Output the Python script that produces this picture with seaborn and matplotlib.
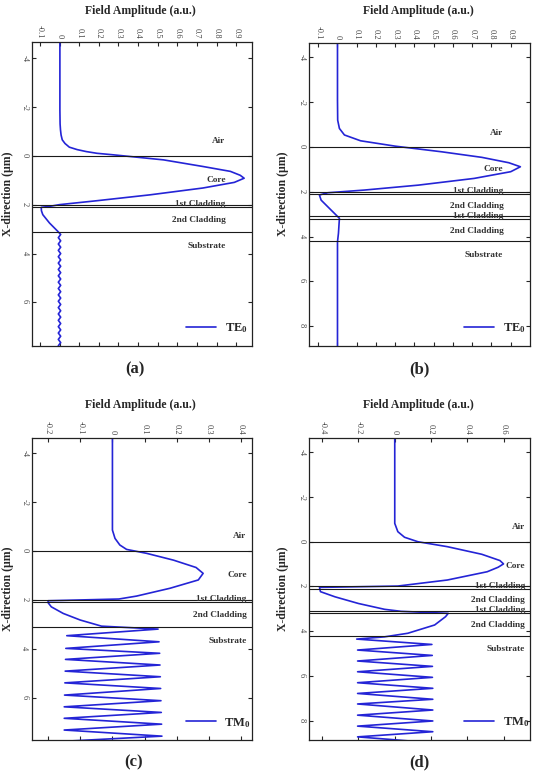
import numpy as np
import pandas as pd
import matplotlib.pyplot as plt
import seaborn as sns

sns.set_theme(style='ticks')
plt.rcParams['font.family'] = ['Liberation Serif', 'DejaVu Serif']
plt.rcParams['axes.unicode_minus'] = False
plt.rcParams['mathtext.fontset'] = 'custom'
plt.rcParams['mathtext.rm'] = 'Liberation Serif'
plt.rcParams['mathtext.bf'] = 'Liberation Serif:bold'

# (a) TE0, single stack
a_depth = [-4.7, -1.87, -1.3, -1.06, -0.85, -0.65, -0.5, -0.35, -0.25, -0.17, -0.1, -0.04, 0.17, 0.44,
           0.64, 0.8, 0.92, 1.09, 1.32, 1.60, 1.84, 2.0, 2.07, 2.11, 2.25, 2.41, 2.75, 3.09,
           3.22, 3.35, 3.48, 3.61, 3.74, 3.87, 4.00, 4.13, 4.26, 4.39, 4.52, 4.65, 4.78, 4.91,
           5.04, 5.17, 5.30, 5.43, 5.56, 5.69, 5.82, 5.95, 6.08, 6.21, 6.34, 6.47, 6.60, 6.73,
           6.86, 6.99, 7.12, 7.25, 7.38, 7.51, 7.64, 7.77, 7.90]
a_amp = [0.002, 0.002, 0.003, 0.005, 0.008, 0.014, 0.028, 0.05, 0.09, 0.136, 0.19, 0.27, 0.53, 0.73,
         0.87, 0.92, 0.94, 0.89, 0.73, 0.46, 0.19, 0.0, -0.05, -0.093, -0.092, -0.085, -0.051, -0.009,
         0.006, -0.006, 0.006, -0.006, 0.006, -0.006, 0.006, -0.006, 0.006, -0.006, 0.006, -0.006, 0.006, -0.006,
         0.006, -0.006, 0.006, -0.006, 0.006, -0.006, 0.006, -0.006, 0.006, -0.006, 0.006, -0.006, 0.006, -0.006,
         0.006, -0.006, 0.006, -0.006, 0.006, -0.006, 0.006, -0.006, 0.006]

# (b) TE0, double stack
b_depth = [-4.7, -2.1, -1.2, -0.83, -0.54, -0.28, -0.04, 0.21, 0.46, 0.70, 0.88, 1.10, 1.40, 1.70,
           1.92, 2.04, 2.14, 2.37, 2.67, 2.96, 3.18, 3.85, 4.23, 9.0]
b_amp = [0.0, 0.0, 0.001, 0.01, 0.036, 0.12, 0.30, 0.54, 0.75, 0.89, 0.95, 0.90, 0.71, 0.42,
         0.14, -0.05, -0.094, -0.085, -0.05, -0.016, 0.01, 0.005, 0.0, 0.0]

# (c) TM0, single stack
c_depth = [-4.7, -1.67, -0.85, -0.51, -0.24, -0.06, 0.10, 0.38, 0.68, 0.92, 1.19, 1.53, 1.85, 1.97,
           2.04, 2.12, 2.29, 2.56, 2.83, 3.08, 3.2, 3.47, 3.72, 3.99, 4.19, 4.44, 4.67, 4.92, 5.15,
           5.40, 5.63, 5.90, 6.13, 6.38, 6.61, 6.85, 7.09, 7.33, 7.58, 7.79, 7.85]
c_amp = [0.0, 0.0, 0.0, 0.008, 0.023, 0.044, 0.106, 0.19, 0.26, 0.282, 0.267, 0.179, 0.075, 0.02,
         -0.2, -0.2, -0.19, -0.153, -0.10, -0.034, 0.142, -0.142, 0.145, -0.145, 0.147, -0.146, 0.148,
         -0.147, 0.149, -0.148, 0.15, -0.149, 0.151, -0.15, 0.152, -0.15, 0.153, -0.15, 0.154, -0.15, 0.05]

# (d) TM0, double stack
d_depth = [-4.7, -1.86, -0.81, -0.44, -0.19, 0.01, 0.23, 0.57, 0.85, 1.0, 1.15, 1.35, 1.72, 1.99,
           2.05, 2.24, 2.47, 2.77, 3.03, 3.12, 3.21, 3.36, 3.73, 4.10, 4.26, 4.36, 4.6, 4.85, 5.09,
           5.34, 5.58, 5.82, 6.07, 6.31, 6.56, 6.79, 7.05, 7.26, 7.53, 7.76, 8.02, 8.25, 8.5, 8.73, 8.95]
d_amp = [0.0, 0.0, 0.0, 0.017, 0.054, 0.128, 0.29, 0.48, 0.58, 0.6, 0.57, 0.51, 0.29, 0.017,
         -0.415, -0.41, -0.33, -0.20, -0.056, 0.035, 0.295, 0.28, 0.22, 0.072, -0.056, -0.21, 0.205,
         -0.205, 0.207, -0.205, 0.208, -0.205, 0.208, -0.205, 0.21, -0.205, 0.21, -0.205, 0.21,
         -0.205, 0.21, -0.205, 0.21, -0.205, 0.14]

single_bounds = [0.0, 2.0, 2.1, 3.1]
double_bounds = [0.0, 2.0, 2.1, 3.1, 3.2, 4.2]

single_layers = ['Air', 'Core', '1st Cladding', '2nd Cladding', 'Substrate']
single_layer_y = [-0.62, 0.98, 1.98, 2.62, 3.70]
double_layers = ['Air', 'Core', '1st Cladding', '2nd Cladding', '1st Cladding', '2nd Cladding', 'Substrate']
double_layer_y = [-0.64, 0.98, 1.97, 2.62, 3.07, 3.74, 4.83]

te_xticks = [-0.1, 0, 0.1, 0.2, 0.3, 0.4, 0.5, 0.6, 0.7, 0.8, 0.9]
te_xlabels = ['-0.1', '0', '0.1', '0.2', '0.3', '0.4', '0.5', '0.6', '0.7', '0.8', '0.9']
c_xticks = [-0.2, -0.1, 0, 0.1, 0.2, 0.3, 0.4]
c_xlabels = ['-0.2', '-0.1', '0', '0.1', '0.2', '0.3', '0.4']
d_xticks = [-0.4, -0.2, 0, 0.2, 0.4, 0.6]
d_xlabels = ['-0.4', '-0.2', '0', '0.2', '0.4', '0.6']
single_yticks = [-4, -2, 0, 2, 4, 6]
double_yticks = [-4, -2, 0, 2, 4, 6, 8]

blue = '#2424d6'

fig = plt.figure(figsize=(5.37, 7.74), dpi=100)
W, H = 537, 774


def add_ax(l, r, t, b):
    return fig.add_axes([l / W, 1 - b / H, (r - l) / W, (b - t) / H])


def panel(ax, amp, depth, bounds, layers, layer_y, text_x, xt, xl, xlim, yt, ylim, mode, leg_x):
    df = pd.DataFrame({'amp': amp, 'depth': depth})
    sns.lineplot(data=df, x='amp', y='depth', sort=False, estimator=None, color=blue,
                 lw=1.2, ax=ax, label=mode)
    for b in bounds:
        ax.axhline(b, color='#1a1a1a', lw=0.8)
    for s, y in zip(layers, layer_y):
        ax.text(text_x, y, s, transform=ax.get_yaxis_transform(), ha='right', va='center',
                fontsize=6.7, fontweight='bold', color='#333333')
    ax.set_xlim(*xlim)
    ax.set_ylim(ylim[1], ylim[0])
    ax.set_xticks(xt)
    ax.set_xticklabels(xl, rotation=-90)
    ax.set_yticks(yt)
    ax.set_yticklabels([str(v) for v in yt], rotation=-90)
    ax.tick_params(which='both', direction='in', top=True, right=True, bottom=True, left=True,
                   labeltop=True, labelbottom=False, length=3, width=0.8, labelsize=6,
                   labelcolor='#444444', pad=2.5)
    ax.set_xlabel('')
    ax.set_ylabel('')
    for sp in ax.spines.values():
        sp.set_linewidth(0.9)
        sp.set_color('#222222')
    ax.legend(loc='center left', bbox_to_anchor=(leg_x, 0.058), frameon=False, borderpad=0,
              borderaxespad=0, handlelength=2.4, handletextpad=0.7, fontsize=9)


ax_a = add_ax(32, 252, 42, 346)
panel(ax_a, a_amp, a_depth, single_bounds, single_layers, single_layer_y, 0.88,
      te_xticks, te_xlabels, (-0.14, 0.98), single_yticks, (-4.65, 7.78), r'$\mathbf{TE_0}$', 0.699)

ax_b = add_ax(309, 530, 42.7, 345.7)
panel(ax_b, b_amp, b_depth, double_bounds, double_layers, double_layer_y, 0.879,
      te_xticks, te_xlabels, (-0.148, 1.0), double_yticks, (-4.66, 8.87), r'$\mathbf{TE_0}$', 0.701)

ax_c = add_ax(31.7, 251.7, 437.7, 740.3)
panel(ax_c, c_amp, c_depth, single_bounds, single_layers, [-0.62, 0.99, 1.98, 2.63, 3.69], 0.977,
      c_xticks, c_xlabels, (-0.251, 0.433), single_yticks, (-4.63, 7.75), r'$\mathbf{TM_0}$', 0.70)

ax_d = add_ax(309, 530, 437.7, 740)
panel(ax_d, d_amp, d_depth, double_bounds, double_layers, [-0.63, 1.08, 1.99, 2.62, 3.06, 3.75, 4.82], 0.977,
      d_xticks, d_xlabels, (-0.473, 0.746), double_yticks, (-4.64, 8.87), r'$\mathbf{TM_0}$', 0.701)

for cx, ty in [(140, 10.7), (418, 10.7), (140, 405), (418, 405)]:
    fig.text(cx / W, 1 - ty / H, 'Field Amplitude (a.u.)', ha='center', va='center',
             fontsize=8.5, fontweight='bold')
for lx, cy in [(8, 194), (283, 194), (8, 589), (283, 589)]:
    fig.text(lx / W, 1 - cy / H, 'X-direction (\u03bcm)', ha='center', va='center', rotation=90,
             fontsize=8.5, fontweight='bold')
for s, cx, cy in [('(a)', 135, 369.3), ('(b)', 419, 369.3), ('(c)', 134, 762.7), ('(d)', 419, 762.7)]:
    fig.text(cx / W, 1 - cy / H, s, ha='center', va='center', fontsize=12, fontweight='bold')

fig.savefig('out.png', dpi=100)
